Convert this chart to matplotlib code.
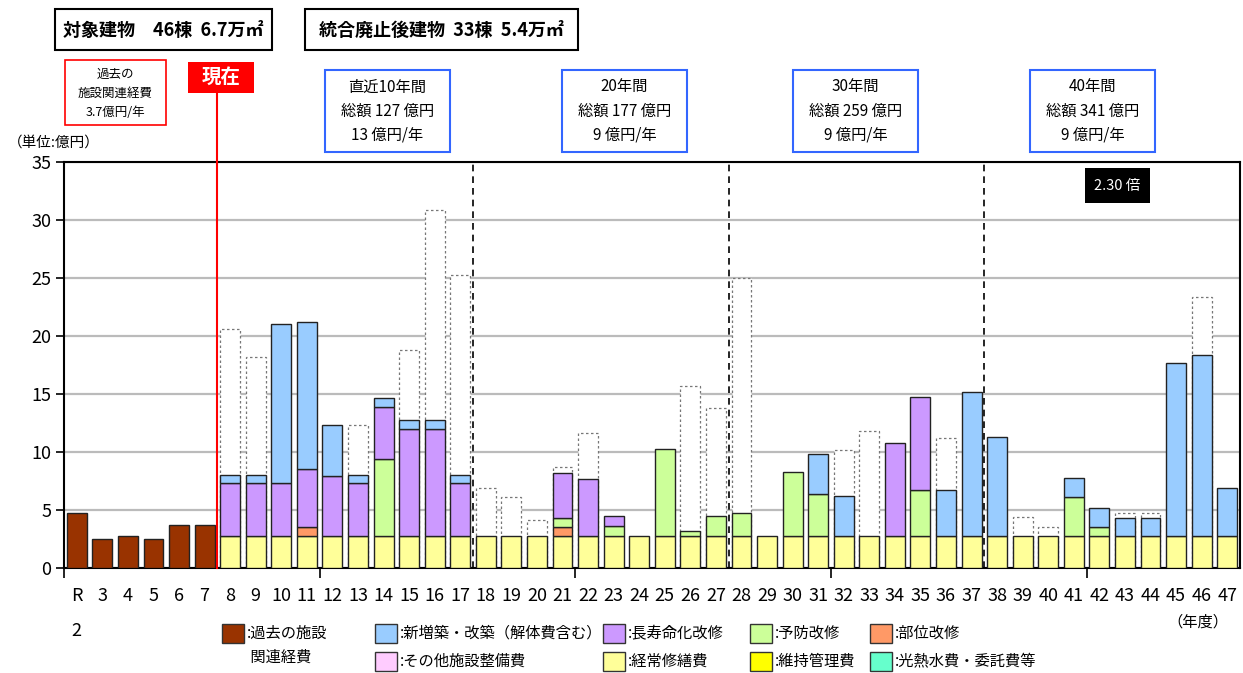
import matplotlib.pyplot as plt
import numpy as np
from matplotlib.patches import Rectangle

plt.rcParams['font.family'] = ['Noto Sans CJK JP', 'DejaVu Sans']

# 年度ラベル（R2〜R47）
years = ['R\n2', '3', '4', '5', '6', '7'] + [str(y) for y in range(8, 48)]

# 過去の施設関連経費（R2〜R7）
past = [4.7, 2.5, 2.8, 2.5, 3.7, 3.7]

# 将来の更新費用（R8〜R47）  単位:億円
keijo = [2.8, 2.8, 2.8, 2.8, 2.8, 2.8, 2.8, 2.8, 2.8, 2.8,
         2.8, 2.8, 2.8, 2.8, 2.8, 2.8, 2.8, 2.8, 2.8, 2.8,
         2.8, 2.8, 2.8, 2.8, 2.8, 2.8, 2.8, 2.8, 2.8, 2.8,
         2.8, 2.8, 2.8, 2.8, 2.8, 2.8, 2.8, 2.8, 2.8, 2.8]
bui = [0, 0, 0, 0.7, 0, 0, 0, 0, 0, 0,
       0, 0, 0, 0.7, 0, 0, 0, 0, 0, 0,
       0, 0, 0, 0, 0, 0, 0, 0, 0, 0,
       0, 0, 0, 0, 0, 0, 0, 0, 0, 0]
yobo = [0, 0, 0, 0, 0, 0, 6.6, 0, 0, 0,
        0, 0, 0, 0.8, 0, 0.8, 0, 7.5, 0.4, 1.7,
        1.9, 0, 5.5, 3.6, 0, 0, 0, 3.9, 0, 0,
        0, 0, 0, 3.3, 0.7, 0, 0, 0, 0, 0]
choju = [4.5, 4.5, 4.5, 5.0, 5.1, 4.5, 4.5, 9.2, 9.2, 4.5,
         0, 0, 0, 3.9, 4.9, 0.9, 0, 0, 0, 0,
         0, 0, 0, 0, 0, 0, 8.0, 8.0, 0, 0,
         0, 0, 0, 0, 0, 0, 0, 0, 0, 0]
shinzo = [0.75, 0.75, 13.7, 12.7, 4.4, 0.75, 0.75, 0.75, 0.75, 0.75,
          0, 0, 0, 0, 0, 0, 0, 0, 0, 0,
          0, 0, 0, 3.4, 3.4, 0, 0, 0, 3.9, 12.4,
          8.5, 0, 0, 1.7, 1.7, 1.5, 1.5, 14.9, 15.6, 4.1]
# 統合廃止前の費用（点線）
before = [20.6, 18.2, 0, 0, 0, 12.3, 0, 18.8, 30.9, 25.3,
          6.9, 6.1, 4.1, 8.7, 11.6, 0, 0, 0, 15.7, 13.8,
          25.0, 0, 0, 0, 10.2, 11.8, 0, 0, 11.2, 0,
          0, 4.4, 3.5, 0, 0, 4.7, 4.7, 0, 23.4, 0]

# 期間ごとの集計ボックス
periods = ['直近10年間', '20年間', '30年間', '40年間']
totals = [127, 177, 259, 341]
per_year = [13, 9, 9, 9]

colors = {
    'past': '#993300', 'shinzo': '#99CCFF', 'choju': '#CC99FF', 'yobo': '#CCFF99',
    'bui': '#FF9966', 'sonota': '#FFCCFF', 'keijo': '#FFFF99', 'iji': '#FFFF00',
    'kone': '#66FFCC',
}

fig = plt.figure(figsize=(12.43, 6.73), dpi=100)
ax = fig.add_axes([64 / 1243, 1 - 568 / 673, 1176 / 1243, 406 / 673])

w = 0.78
x_past = np.arange(len(past))
x_fut = np.arange(len(keijo)) + len(past)

ax.bar(x_past, past, w, color=colors['past'], edgecolor='#222222', lw=1, zorder=3)

before = np.array(before)
m = before > 0
ax.bar(x_fut[m], before[m], w, color='white', edgecolor='#777777', lw=0.9,
       linestyle=(0, (2, 2)), zorder=2)

bottom = np.zeros(len(keijo))
for key, vals in [('keijo', keijo), ('bui', bui), ('yobo', yobo),
                  ('choju', choju), ('shinzo', shinzo)]:
    vals = np.array(vals, dtype=float)
    m = vals > 0
    ax.bar(x_fut[m], vals[m], w, bottom=bottom[m], color=colors[key],
           edgecolor='#222222', lw=1, zorder=3)
    bottom += vals

ax.set_xlim(-0.5, len(years) - 0.5)
ax.set_ylim(0, 35)
ax.set_yticks(range(0, 36, 5))
ax.yaxis.grid(True, color='#BBBBBB', lw=1.6)
ax.set_axisbelow(True)
for s in ax.spines.values():
    s.set_linewidth(1.5)
ax.tick_params(axis='y', length=6, width=1.2, labelsize=13, pad=3)

ax.set_xticks(np.arange(len(years)))
ax.set_xticklabels(years, fontsize=13)
ax.tick_params(axis='x', which='major', length=0, pad=14)
ax.set_xticks([-0.5, 9.5, 19.5, 29.5, 39.5], minor=True)
ax.tick_params(axis='x', which='minor', length=7, width=1.2)
ax.get_xticklabels()[0].set_linespacing(2.2)

# 期間の区切り線
for xb in [15.5, 25.5, 35.5]:
    ax.axvline(xb, color='black', lw=1.2, linestyle=(0, (4, 3)), zorder=4)

# 現在ライン
ax.axvline(5.5, ymin=0, ymax=1.17, color='red', lw=1.5, clip_on=False, zorder=5)

# 注記類（ピクセル座標）
ov = fig.add_axes([0, 0, 1, 1])
ov.set_xlim(0, 1243)
ov.set_ylim(673, 0)
ov.axis('off')

ov.add_patch(Rectangle((55, 9), 217, 41, fill=False, ec='black', lw=1.5))
ov.text(163, 30, '対象建物　46棟  6.7万㎡', ha='center', va='center',
        fontsize=13, fontweight='bold')
ov.add_patch(Rectangle((305, 9), 273, 41, fill=False, ec='black', lw=1.5))
ov.text(441, 30, '統合廃止後建物  33棟  5.4万㎡', ha='center', va='center',
        fontsize=13, fontweight='bold')

ov.add_patch(Rectangle((65, 60), 101, 65, fill=False, ec='red', lw=1.2))
ov.text(115, 93, '過去の\n施設関連経費\n3.7億円/年', ha='center', va='center',
        fontsize=9, linespacing=1.6)

ov.add_patch(Rectangle((188, 62), 66, 31, color='red', lw=0))
ov.text(221, 77, '現在', ha='center', va='center', fontsize=14,
        fontweight='bold', color='white')

ov.text(8, 143, '（単位:億円）', ha='left', va='center', fontsize=10.5)

box_x = [325, 562, 793, 1030]
for bx, p, t, py in zip(box_x, periods, totals, per_year):
    ov.add_patch(Rectangle((bx, 70), 125, 82, fill=False, ec='#3366FF', lw=1.5))
    ov.text(bx + 62.5, 111, f'{p}\n総額 {t} 億円\n{py} 億円/年', ha='center',
            va='center', fontsize=11, linespacing=1.55)

ov.add_patch(Rectangle((1085, 168), 65, 35, color='black', lw=0))
ov.text(1117.5, 186, '2.30 倍', ha='center', va='center', fontsize=10.5, color='white')

ov.text(1198, 622, '（年度）', ha='center', va='center', fontsize=11)

# 凡例
legend_items = [
    (222, 624, 'past', ':過去の施設\n 関連経費'),
    (375, 624, 'shinzo', ':新増築・改築（解体費含む）'),
    (603, 624, 'choju', ':長寿命化改修'),
    (750, 624, 'yobo', ':予防改修'),
    (870, 624, 'bui', ':部位改修'),
    (375, 652, 'sonota', ':その他施設整備費'),
    (603, 652, 'keijo', ':経常修繕費'),
    (750, 652, 'iji', ':維持管理費'),
    (870, 652, 'kone', ':光熱水費・委託費等'),
]
for lx, ly, key, label in legend_items:
    ov.add_patch(Rectangle((lx, ly), 22, 19, fc=colors[key], ec='#333333', lw=1))
    if '\n' in label:
        ov.text(lx + 25, ly + 9.5, label.split('\n')[0], ha='left', va='center', fontsize=11)
        ov.text(lx + 25, ly + 33, label.split('\n')[1], ha='left', va='center', fontsize=11)
    else:
        ov.text(lx + 25, ly + 9.5, label, ha='left', va='center', fontsize=11)

fig.savefig('out.png', dpi=100)
